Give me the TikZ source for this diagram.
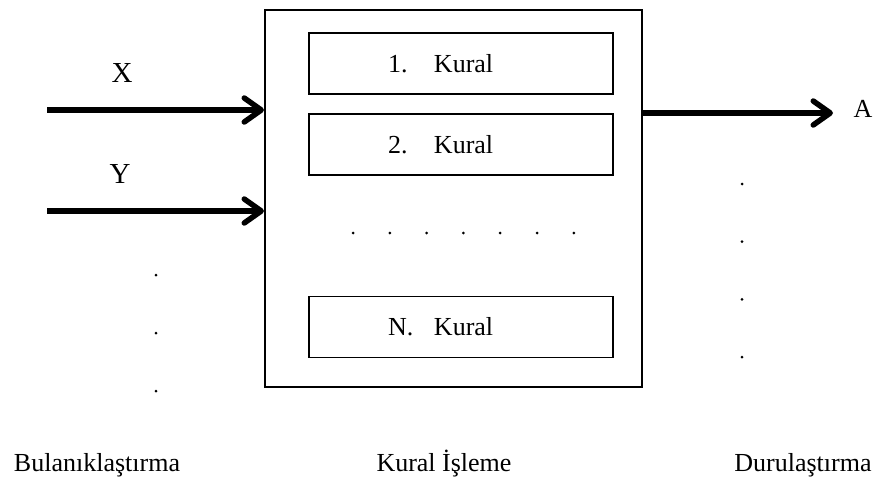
\documentclass[tikz,border=0pt]{standalone}
\usepackage{fontspec}
\setmainfont{Liberation Serif}
\usepackage{tikz}
\usetikzlibrary{arrows.meta, positioning, calc}

\begin{document}
\begin{tikzpicture}[x=1pt, y=-1pt,
    rulebox/.style={draw, line width=1.8pt, minimum width=304pt, minimum height=61pt,
        text width=146pt, inner xsep=79pt, align=left, font=\fontsize{26}{30}\selectfont},
    bigarrow/.style={line width=5.5pt, -{Straight Barb[length=17pt, width=24pt, round]}},
    lbl/.style={font=\fontsize{26}{30}\selectfont},
    varlbl/.style={font=\fontsize{29}{33}\selectfont},
    smalldot/.style={circle, fill, inner sep=0pt, minimum size=3pt}]
    \useasboundingbox (0,0) rectangle (876,479);

    % Rule processing block
    \node[draw, line width=2pt, minimum width=377pt, minimum height=377pt] (proc) at (453.5,198.5) {};
    \node[rulebox] (r1) at (461,63.5) {\makebox[46pt][l]{1.}Kural};
    \node[rulebox] (r2) at (461,144.5) {\makebox[46pt][l]{2.}Kural};
    \node[rulebox] (rn) at (461,327) {\makebox[46pt][l]{N.}Kural};
    \foreach \i in {0,...,6} {
        \node[smalldot] (m\i) at (353+\i*36.8, 233) {};
    }

    % Inputs
    \coordinate (xin) at (47,110);
    \coordinate (yin) at (47,211);
    \draw[bigarrow] (xin) -- (xin -| proc.west);
    \draw[bigarrow] (yin) -- (yin -| proc.west);
    \node[varlbl] (xlabel) at (122,73) {X};
    \node[varlbl] (ylabel) at (120,174) {Y};
    \foreach \i in {0,1,2} {
        \node[smalldot] (l\i) at (156, 275+\i*58) {};
    }

    % Output
    \coordinate (aout) at (833,113);
    \draw[bigarrow] (aout -| proc.east) -- (aout);
    \node[lbl] (alabel) at (863,109) {A};
    \foreach \i in {0,...,3} {
        \node[smalldot] (o\i) at (742, 184+\i*57.7) {};
    }

    % Labels
    \node[lbl, anchor=base] (fuzz) at (97,471) {Bulanıklaştırma};
    \node[lbl, anchor=base] (infer) at (444,471) {Kural İşleme};
    \node[lbl, anchor=base] (defuzz) at (803,471) {Durulaştırma};
\end{tikzpicture}
\end{document}
